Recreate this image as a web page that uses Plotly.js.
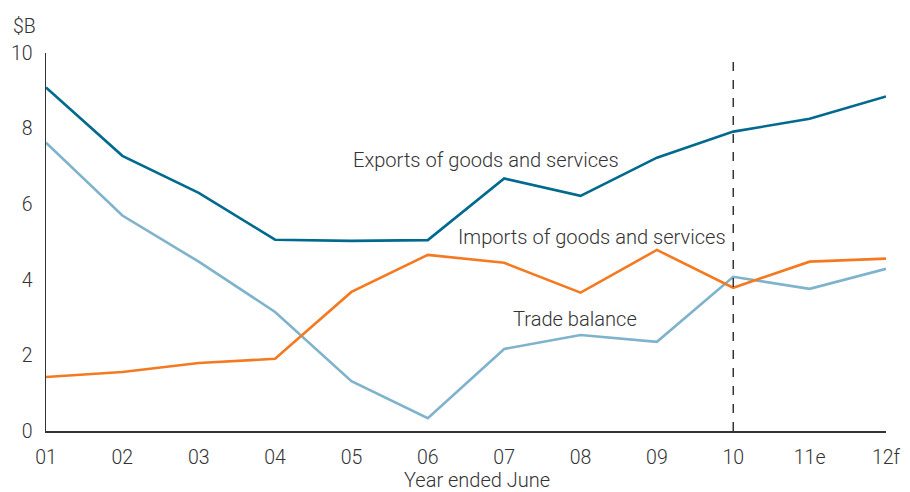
<!DOCTYPE html>
<html>
<head>
<meta charset="utf-8">
<script src="https://cdn.plot.ly/plotly-3.0.1.min.js"></script>
<style>html,body{margin:0;padding:0;background:#fff;}#chart{width:910px;height:492px;}</style>
</head>
<body>
<div id="chart"></div>
<script>
const years = ["01","02","03","04","05","06","07","08","09","10","11e","12f"];
const exportsVals = [9.09, 7.28, 6.30, 5.06, 5.03, 5.05, 6.68, 6.22, 7.23, 7.92, 8.26, 8.85];
const importsVals = [1.43, 1.56, 1.80, 1.91, 3.68, 4.66, 4.45, 3.66, 4.79, 3.79, 4.48, 4.56];
const balanceVals = [7.63, 5.70, 4.48, 3.15, 1.32, 0.34, 2.17, 2.54, 2.36, 4.08, 3.76, 4.29];
const yTicks = [0, 2, 4, 6, 8, 10];

const fontFam = "Roboto, 'Open Sans', sans-serif";
const txt = "#333333";

const traces = [
  {x: years, y: exportsVals, type: "scatter", mode: "lines", name: "Exports",
   line: {color: "#006a8e", width: 2.6}},
  {x: years, y: balanceVals, type: "scatter", mode: "lines", name: "Trade balance",
   line: {color: "#7eb3cb", width: 2.6}},
  {x: years, y: importsVals, type: "scatter", mode: "lines", name: "Imports",
   line: {color: "#f47a22", width: 2.6}}
];

const layout = {
  width: 910, height: 492,
  margin: {l: 46, r: 24, t: 53, b: 61},
  paper_bgcolor: "#fff", plot_bgcolor: "#fff",
  showlegend: false,
  font: {family: fontFam, size: 19.5, color: txt, weight: 300},
  xaxis: {
    type: "category", range: [0, 11], showgrid: false, zeroline: false,
    showline: true, linecolor: "#333", linewidth: 1.5,
    ticks: "outside", ticklen: 8, tickcolor: "rgba(0,0,0,0)",
    tickfont: {family: fontFam, size: 19.5, color: txt, weight: 300}
  },
  yaxis: {
    range: [0, 10], tickvals: yTicks, showgrid: false, zeroline: false,
    showline: true, linecolor: "#333", linewidth: 1.5,
    ticks: "outside", ticklen: 8, tickcolor: "rgba(0,0,0,0)",
    tickfont: {family: fontFam, size: 19.5, color: txt, weight: 300}
  },
  shapes: [
    {type: "line", xref: "x", yref: "y", x0: 9, x1: 9, y0: 0, y1: 10,
     line: {color: "#333", width: 1.5, dash: "dash"}}
  ],
  annotations: [
    {text: "$B", xref: "paper", yref: "paper", x: -0.042, y: 1.07, xanchor: "left", yanchor: "middle",
     showarrow: false, font: {family: fontFam, size: 19.5, color: txt, weight: 300}},
    {text: "Year ended June", xref: "paper", yref: "paper", x: 0.513, y: -0.13, xanchor: "center", yanchor: "middle",
     showarrow: false, font: {family: fontFam, size: 20, color: txt, weight: 300}},
    {text: "Exports of goods and services", xref: "paper", yref: "y", x: (351-46)/840, y: 7.17, xanchor: "left", yanchor: "middle",
     showarrow: false, font: {family: fontFam, size: 20.1, color: txt, weight: 300}},
    {text: "Imports of goods and services", xref: "paper", yref: "y", x: (456-46)/840, y: 5.13, xanchor: "left", yanchor: "middle",
     showarrow: false, font: {family: fontFam, size: 20.1, color: txt, weight: 300}},
    {text: "Trade balance", xref: "paper", yref: "y", x: (511-46)/840, y: 2.96, xanchor: "left", yanchor: "middle",
     showarrow: false, font: {family: fontFam, size: 20.1, color: txt, weight: 300}}
  ]
};

Plotly.newPlot("chart", traces, layout, {displayModeBar: false, staticPlot: true});
</script>
</body>
</html>
